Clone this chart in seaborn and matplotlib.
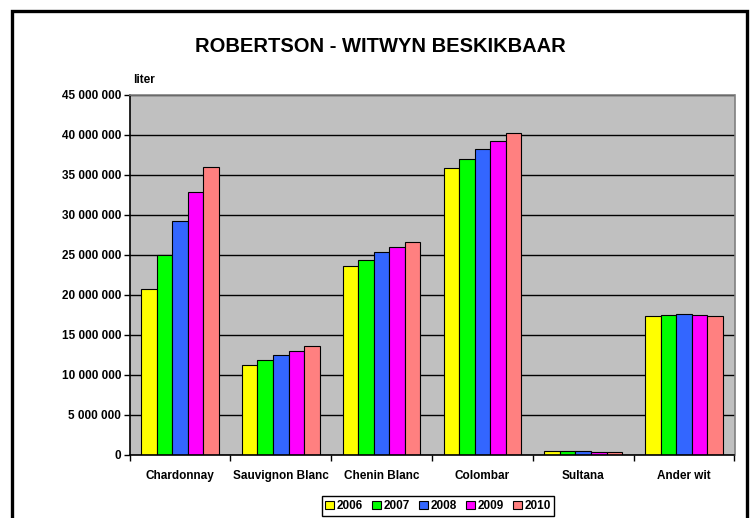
import matplotlib
matplotlib.use("Agg")
import matplotlib.pyplot as plt
import seaborn as sns
import pandas as pd
from matplotlib.ticker import FuncFormatter, FixedLocator, MultipleLocator
from matplotlib.patches import Rectangle, Patch

categories = ["Chardonnay", "Sauvignon Blanc", "Chenin Blanc", "Colombar", "Sultana", "Ander wit"]
years = ["2006", "2007", "2008", "2009", "2010"]
v2006 = [20_700_000, 11_150_000, 23_550_000, 35_800_000, 450_000, 17_300_000]
v2007 = [25_000_000, 11_800_000, 24_400_000, 37_000_000, 400_000, 17_450_000]
v2008 = [29_200_000, 12_400_000, 25_300_000, 38_200_000, 400_000, 17_550_000]
v2009 = [32_800_000, 13_000_000, 26_000_000, 39_200_000, 350_000, 17_500_000]
v2010 = [36_000_000, 13_600_000, 26_600_000, 40_200_000, 350_000, 17_370_000]
colors = ["#FFFF00", "#00FF00", "#3366FF", "#FF00FF", "#FF8080"]

series = [v2006, v2007, v2008, v2009, v2010]
rows = []
for y, vals in zip(years, series):
    for c, v in zip(categories, vals):
        rows.append({"category": c, "year": y, "value": v})
df = pd.DataFrame(rows)

sns.set_theme(style="white")
plt.rcParams["font.family"] = ["Liberation Sans", "DejaVu Sans"]
plt.rcParams["font.weight"] = "bold"
plt.rcParams["text.color"] = "black"
plt.rcParams["xtick.color"] = "black"
plt.rcParams["ytick.color"] = "black"
plt.rcParams["xtick.labelcolor"] = "black"
plt.rcParams["ytick.labelcolor"] = "black"
plt.rcParams["axes.labelcolor"] = "black"

fig = plt.figure(figsize=(7.54, 5.18), dpi=100)
ax = fig.add_axes([129.5 / 754, 1 - 454.5 / 518, (734.5 - 129.5) / 754, (454.5 - 95) / 518])
ax.set_facecolor("#C0C0C0")

sns.barplot(data=df, x="category", y="value", hue="year", palette=colors,
            order=categories, hue_order=years, width=0.77, gap=0,
            edgecolor="black", linewidth=0.8, ax=ax, legend=False, saturation=1)

ax.set_ylim(0, 45_000_000)
ax.set_xlim(-0.5, len(categories) - 0.5)
ax.yaxis.set_major_locator(MultipleLocator(5_000_000))
ax.yaxis.set_major_formatter(FuncFormatter(lambda v, p: f"{int(v):,}".replace(",", " ")))
ax.grid(axis="y", color="black", linewidth=1.0)
ax.set_axisbelow(True)

ax.set_xlabel("")
ax.set_ylabel("")
ax.tick_params(axis="x", which="major", length=0, pad=11, labelsize=8.5, labelcolor="black")
ax.xaxis.set_minor_locator(FixedLocator([i - 0.5 for i in range(len(categories) + 1)]))
ax.tick_params(axis="x", which="minor", length=4, width=1, color="black", direction="out", bottom=True)
ax.tick_params(axis="y", which="major", length=4, width=1, color="black", direction="out", left=True,
               labelsize=8.5, pad=2, labelcolor="black")
for lbl in ax.get_xticklabels() + ax.get_yticklabels():
    lbl.set_fontweight("bold")

for s in ["left", "bottom"]:
    ax.spines[s].set_color("black")
    ax.spines[s].set_linewidth(1.2)
for s in ["top", "right"]:
    ax.spines[s].set_color("#808080")
    ax.spines[s].set_linewidth(1.2)

fig.text(380 / 754, 1 - 46 / 518, "ROBERTSON - WITWYN BESKIKBAAR", ha="center", va="center",
         fontsize=14.5, fontweight="bold", color="black")
fig.text(133 / 754, 1 - 80 / 518, "liter", ha="left", va="center", fontsize=8.5, fontweight="bold", color="black")

handles = [Patch(facecolor=c, edgecolor="black", linewidth=0.8) for c in colors]
leg = fig.legend(handles, years, loc="center", bbox_to_anchor=(438 / 754, 1 - 506 / 518), ncol=5,
                 frameon=True, fancybox=False, edgecolor="black", framealpha=1,
                 handlelength=0.75, handleheight=0.75, handletextpad=0.25, columnspacing=0.75,
                 borderpad=0.3, prop={"weight": "bold", "size": 8.5}, labelcolor="black")
leg.get_frame().set_linewidth(1.0)

fig.patches.append(Rectangle((11.5 / 754, -0.05), (746.5 - 11.5) / 754, (1 - 11 / 518) + 0.05,
                             transform=fig.transFigure, fill=False, edgecolor="black",
                             linewidth=2.4, zorder=10))

fig.savefig("out.png", dpi=100)
